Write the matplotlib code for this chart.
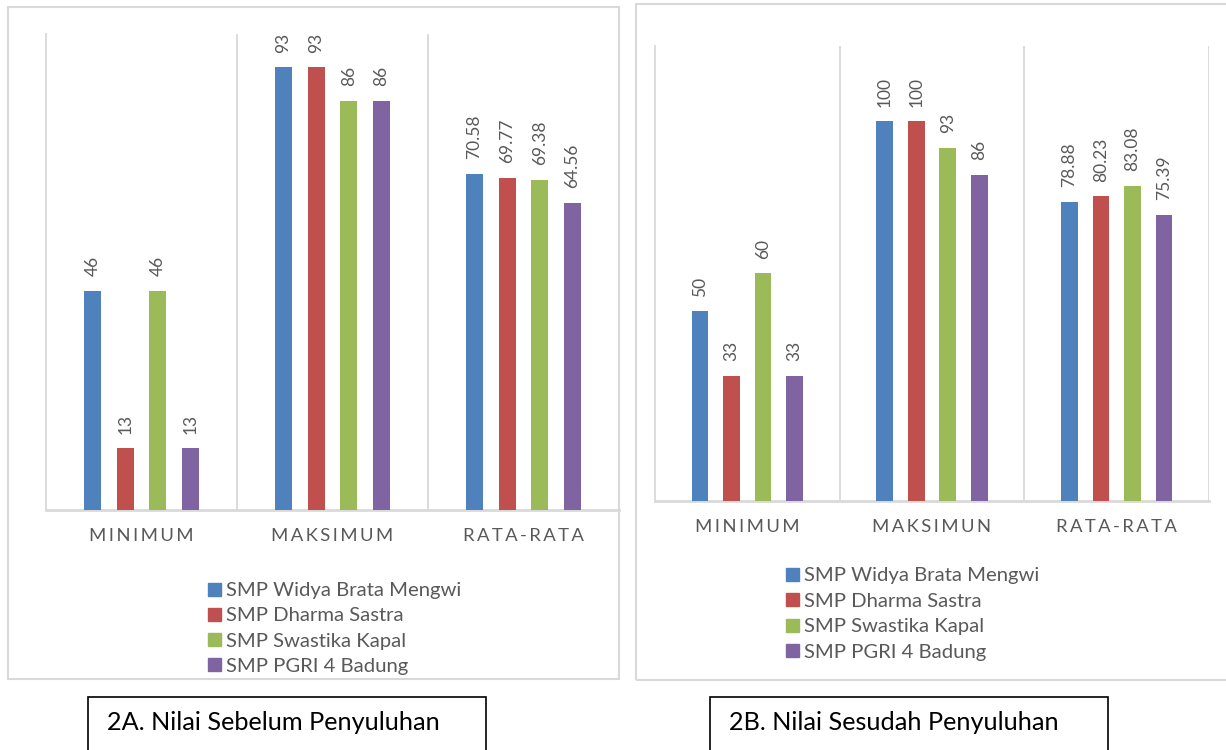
import matplotlib
matplotlib.use("Agg")
import matplotlib.pyplot as plt
import numpy as np
from matplotlib.patches import Rectangle

plt.rcParams["font.family"] = ["Lato", "DejaVu Sans"]

W, H = 1226, 750

categories_a = ["MINIMUM", "MAKSIMUM", "RATA-RATA"]
categories_b = ["MINIMUM", "MAKSIMUN", "RATA-RATA"]
schools = ["SMP Widya Brata Mengwi", "SMP Dharma Sastra", "SMP Swastika Kapal", "SMP PGRI 4 Badung"]
colors = ["#4F81BD", "#C0504D", "#9BBB59", "#8064A2"]

# before (2A) and after (2B), one list per school: minimum, maximum, average
before_widya = [46, 93, 70.58]
before_dharma = [13, 93, 69.77]
before_swastika = [46, 86, 69.38]
before_pgri = [13, 86, 64.56]

after_widya = [50, 100, 78.88]
after_dharma = [33, 100, 80.23]
after_swastika = [60, 93, 83.08]
after_pgri = [33, 86, 75.39]

before = [before_widya, before_dharma, before_swastika, before_pgri]
after = [after_widya, after_dharma, after_swastika, after_pgri]

captions = ["2A. Nilai Sebelum Penyuluhan", "2B. Nilai Sesudah Penyuluhan"]

GRAY_TXT = "#595959"
GRID = "#D9D9D9"


def fig_rect(x0, y0, x1, y1):
    """pixel box (top-left origin) -> figure fraction [left, bottom, width, height]"""
    return [x0 / W, 1 - y1 / H, (x1 - x0) / W, (y1 - y0) / H]


def spaced(text):
    return "\u2009".join(text)


def draw_panel(fig, box, series, cats, ymax, fmt):
    ax = fig.add_axes(fig_rect(*box))
    x = np.arange(len(cats))
    step, width = 0.171, 0.09
    for i, (vals, color) in enumerate(zip(series, colors)):
        bars = ax.bar(x + (i - 1.5) * step, vals, width, color=color, zorder=3)
        for bar, v in zip(bars, vals):
            ax.annotate(fmt(v), (bar.get_x() + bar.get_width() / 2, bar.get_height()),
                        xytext=(0, 10.5), textcoords="offset points", rotation=90,
                        ha="center", va="bottom", fontsize=12.5, color=GRAY_TXT)
    ax.set_xlim(-0.5, len(cats) - 0.5)
    ax.set_ylim(0, ymax)
    ax.set_yticks([])
    ax.set_xticks(x)
    ax.set_xticklabels([spaced(c) for c in cats], fontsize=13.3, color=GRAY_TXT)
    ax.tick_params(axis="x", length=0, pad=13)
    for d in np.arange(0.5, len(cats) - 0.5):
        ax.axvline(d, color=GRID, lw=1.3, zorder=1)
    for s in ["top", "right"]:
        ax.spines[s].set_visible(False)
    ax.spines["left"].set_color(GRID)
    ax.spines["left"].set_linewidth(1.3)
    ax.spines["bottom"].set_color(GRID)
    ax.spines["bottom"].set_linewidth(2)
    ax.axvline(len(cats) - 0.5, color=GRID, lw=1.3, zorder=1)
    return ax


def draw_legend(fig, x0, y0, dy):
    for i, (name, color) in enumerate(zip(schools, colors)):
        yc = y0 + i * dy
        fig.add_artist(Rectangle(((x0) / W, 1 - (yc + 6.5) / H), 13 / W, 13 / H,
                                 transform=fig.transFigure, color=color))
        fig.text((x0 + 18) / W, 1 - yc / H, name, fontsize=14.6, color=GRAY_TXT,
                 va="center_baseline", ha="left")


def frame(fig, x0, y0, x1, y1, color, lw):
    fig.add_artist(Rectangle((x0 / W, 1 - y1 / H), (x1 - x0) / W, (y1 - y0) / H,
                             transform=fig.transFigure, fill=False, edgecolor=color, lw=lw))


fig = plt.figure(figsize=(W / 100, H / 100), dpi=100)

frame(fig, 8, 7, 619, 679, GRID, 1.5)
frame(fig, 636, 4, 1240, 680, GRID, 1.5)

draw_panel(fig, (46, 34, 619, 510), before, categories_a, 100,
           lambda v: f"{v:g}")
draw_panel(fig, (655, 45.5, 1209, 501), after, categories_b, 120,
           lambda v: f"{v:g}")

draw_legend(fig, 208, 589, 25.3)
draw_legend(fig, 786, 574, 25.6)

frame(fig, 88, 697, 486, 760, "black", 1.2)
frame(fig, 710, 697, 1108, 760, "black", 1.2)
fig.text(107 / W, 1 - 723 / H, captions[0], fontsize=18.2, color="black", va="center")
fig.text(729 / W, 1 - 723 / H, captions[1], fontsize=18.2, color="black", va="center")

fig.savefig("out.png", dpi=100, facecolor="white")
